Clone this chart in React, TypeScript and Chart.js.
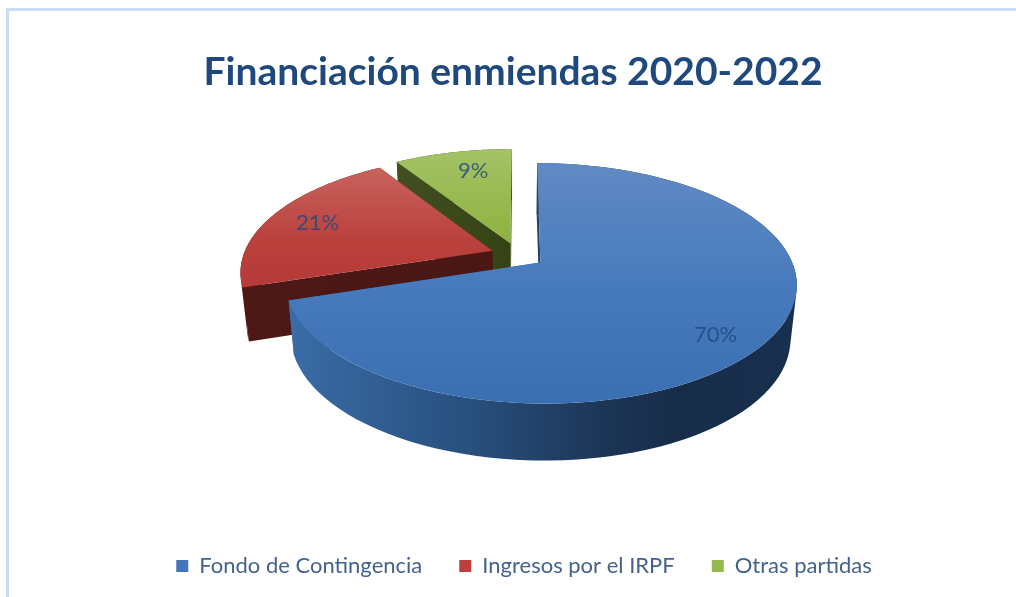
import React, { useEffect, useRef } from "react";
import { Chart, registerables } from "chart.js";

Chart.register(...registerables);

const categories = ["Fondo de Contingencia", "Ingresos por el IRPF", "Otras partidas"];
const shares = [70, 21, 9];
const chartTitle = "Financiación enmiendas 2020-2022";
const baseColors = ["#4375b8", "#bc403c", "#95b84a"];

const FONT = "Lato, 'Open Sans', sans-serif";

// Perspective view of the pie: the library supplies each slice's angles.
const VIEW = { cx: 518, cy: 255, rx: 249, ry: 114, persp: 0.172, explode: 0.11, wallX: 0.977, wallCx: 520 };
const topStops = [
  [[163, "#618ac4"], [280, "#487bbd"], [404, "#3a6fb2"]],
  [[165, "#c7645f"], [240, "#bb413d"], [285, "#b63a37"]],
  [[147, "#a5c368"], [245, "#8db13e"]],
];
const wallStops = [
  [[291, "#3a6ca6"], [400, "#2e5a8e"], [500, "#254a75"], [600, "#1c3657"], [680, "#172c49"], [797, "#182f4e"]],
  [[240, "#4d1816"], [490, "#4a1714"]],
  [[400, "#434f21"], [510, "#344214"]],
];
const labelNudge = [[15, 19], [-15, -2], [6, -4]];
const labelReach = [0.72, 0.72, 0.72];

type P = { x: number; y: number };

function project(theta: number, r: number, mid: number): P {
  const u = r * Math.sin(theta) + VIEW.explode * Math.sin(mid);
  const v = -r * Math.cos(theta) - VIEW.explode * Math.cos(mid);
  const d = 1 - VIEW.persp * v;
  return { x: VIEW.cx + (VIEW.rx * u) / d, y: VIEW.cy + (VIEW.ry * v) / d };
}

function lower(p: P): P {
  return {
    x: VIEW.wallCx + (p.x - VIEW.wallCx) * VIEW.wallX,
    y: p.y + 54 + (p.y - 283) * 0.025,
  };
}

function grad(ctx: CanvasRenderingContext2D, stops: any[], vertical: boolean) {
  const a = stops[0][0];
  const b = stops[stops.length - 1][0];
  const g = vertical ? ctx.createLinearGradient(0, a, 0, b) : ctx.createLinearGradient(a, 0, b, 0);
  stops.forEach(([pos, col]) => g.addColorStop((pos - a) / (b - a), col));
  return g;
}

function tracePath(ctx: CanvasRenderingContext2D, pts: P[]) {
  pts.forEach((p, i) => (i ? ctx.lineTo(p.x, p.y) : ctx.moveTo(p.x, p.y)));
  ctx.closePath();
}

function fillPath(ctx: CanvasRenderingContext2D, pts: P[], fill: any) {
  ctx.beginPath();
  tracePath(ctx, pts);
  ctx.fillStyle = fill;
  ctx.fill();
}

// The curved wall is the sweep of the rim: every small quad goes into one path,
// so that the silhouette runs straight down from the rim's tangent point.
function fillSweep(ctx: CanvasRenderingContext2D, rim: P[], fill: any) {
  ctx.beginPath();
  for (let i = 0; i < rim.length - 1; i++) {
    const a = rim[i];
    const b = rim[i + 1];
    const quad = [a, b, lower(b), lower(a)];
    const area = (b.x - a.x) * (lower(a).y - a.y) - (b.y - a.y) * (lower(a).x - a.x);
    tracePath(ctx, area >= 0 ? quad : quad.slice().reverse());
  }
  ctx.fillStyle = fill;
  ctx.fill();
}

const pie3d = {
  id: "pie3d",
  afterLayout(chart: any) {
    chart.titleBlock.left += 5;
    chart.titleBlock.right += 5;
    chart.legend.left += 16;
    chart.legend.right += 16;
  },
  beforeDraw(chart: any) {
    const ctx = chart.ctx;
    ctx.save();
    ctx.strokeStyle = "#c9ddf3";
    ctx.lineWidth = 3;
    ctx.beginPath();
    ctx.moveTo(7.5, 597);
    ctx.lineTo(7.5, 9.5);
    ctx.lineTo(1016, 9.5);
    ctx.stroke();
    ctx.restore();
  },
  beforeDatasetDraw(chart: any) {
    const ctx: CanvasRenderingContext2D = chart.ctx;
    const arcs = chart.getDatasetMeta(0).data;
    const order = [2, 1, 0];
    ctx.save();
    order.forEach((i) => {
      const el = arcs[i];
      const a0 = el.startAngle + Math.PI / 2;
      const a1 = el.endAngle + Math.PI / 2;
      const mid = (a0 + a1) / 2;
      const rim: P[] = [];
      const steps = 90;
      for (let s = 0; s <= steps; s++) rim.push(project(a0 + ((a1 - a0) * s) / steps, 1, mid));
      const apex = project(0, 0, mid);
      const wall = grad(ctx, wallStops[i], false);
      fillSweep(ctx, rim, wall);
      fillPath(ctx, [apex, rim[0], lower(rim[0]), lower(apex)], wall);
      fillPath(ctx, [apex, rim[steps], lower(rim[steps]), lower(apex)], wall);
      fillPath(ctx, [apex, ...rim], grad(ctx, topStops[i], true));
    });
    ctx.restore();
    return false;
  },
  afterDatasetsDraw(chart: any) {
    const ctx: CanvasRenderingContext2D = chart.ctx;
    const arcs = chart.getDatasetMeta(0).data;
    const values: number[] = chart.data.datasets[0].data;
    const total = values.reduce((a, b) => a + b, 0);
    ctx.save();
    ctx.font = `22px ${FONT}`;
    ctx.textAlign = "center";
    ctx.textBaseline = "middle";
    ctx.fillStyle = "rgba(31,73,125,0.8)";
    arcs.forEach((el: any, i: number) => {
      const mid = (el.startAngle + el.endAngle) / 2 + Math.PI / 2;
      const p = project(mid, labelReach[i], mid);
      ctx.fillText(`${Math.round((values[i] / total) * 100)}%`, p.x + labelNudge[i][0], p.y + labelNudge[i][1]);
    });
    ctx.restore();
  },
};

export default function App() {
  const ref = useRef<HTMLCanvasElement>(null);
  useEffect(() => {
    const chart = new Chart(ref.current!, {
      type: "pie",
      data: {
        labels: categories,
        datasets: [{ data: shares, backgroundColor: baseColors, borderWidth: 0 }],
      },
      options: {
        responsive: false,
        animation: false,
        devicePixelRatio: 1,
        layout: { padding: { bottom: 10 } },
        plugins: {
          tooltip: { enabled: false },
          title: {
            display: true,
            text: chartTitle,
            color: "#1f497d",
            font: { family: FONT, size: 39, weight: "bold" },
            padding: { top: 49, bottom: 20 },
          },
          legend: {
            position: "bottom",
            labels: {
              color: "#44618f",
              font: { family: FONT, size: 22 },
              boxWidth: 12,
              boxHeight: 12,
              padding: 37,
            },
          },
        },
      },
      plugins: [pie3d],
    } as any);
    return () => chart.destroy();
  }, []);
  return (
    <canvas
      ref={ref}
      width={1016}
      height={597}
      style={{ position: "fixed", left: 0, top: 0, width: 1016, height: 597, display: "block" }}
    />
  );
}
